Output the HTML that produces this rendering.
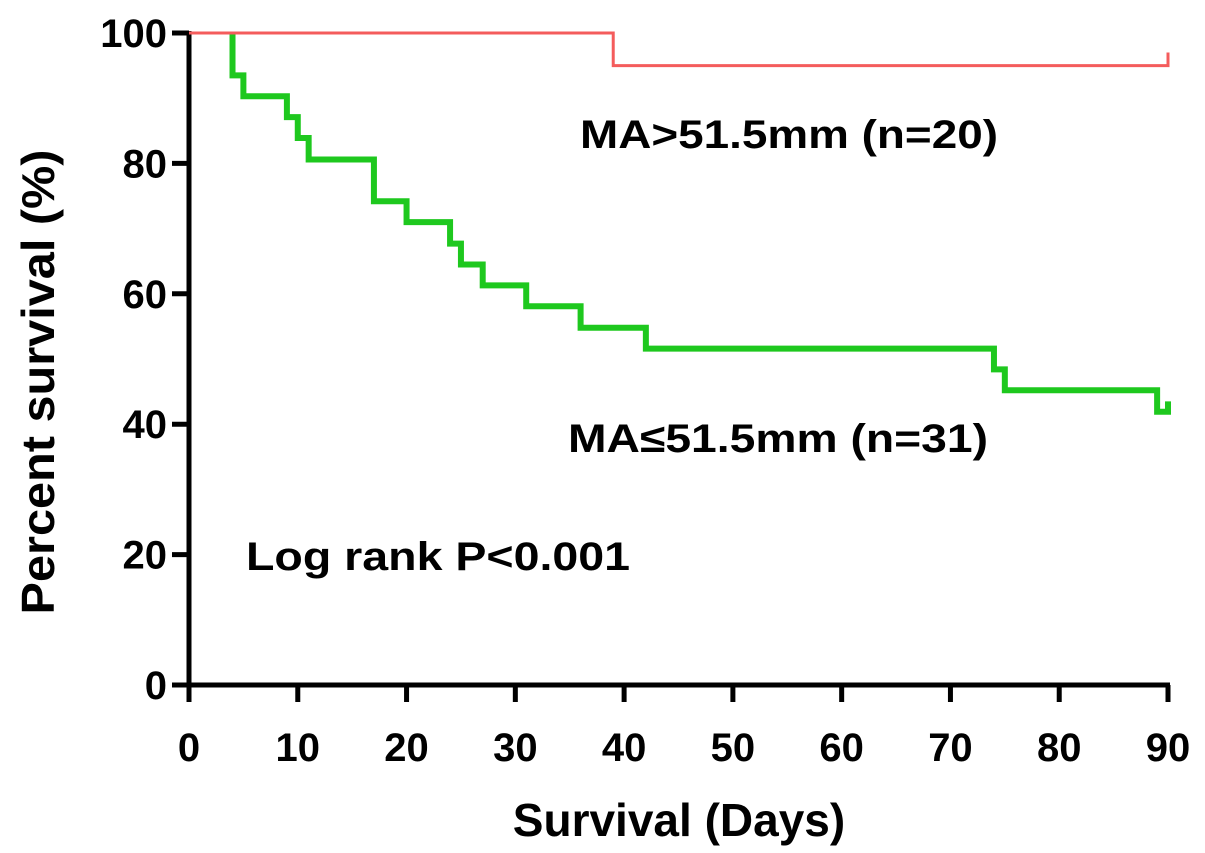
<!DOCTYPE html>
<html><head><meta charset="utf-8"><style>
body{margin:0;background:#fff;}
svg{display:block;font-family:"Liberation Sans",Arial,sans-serif;font-weight:bold;}
</style></head><body>
<svg id="c" width="1205" height="853"></svg>
<script>
const xTicks=[0,10,20,30,40,50,60,70,80,90];
const yTicks=[0,20,40,60,80,100];
const highTimes=[0,39,90];
const highVals=[100,95,95];
const highCensorEnd=97;
const lowTimes=[0,4,5,9,10,11,17,20,24,25,27,31,36,42,74,75,89,90];
const lowVals=[100,93.5,90.3,87.1,83.9,80.6,74.2,71,67.7,64.5,61.3,58.1,54.8,51.6,48.4,45.2,41.9,41.9];
const lowCensorEnd=43.5;

const X0=189,X1=1168,Y0=685,Y1=33;
const sx=d=>X0+(d-0)/90*(X1-X0);
const sy=v=>Y0-(v/100)*(Y0-Y1);
const svg=document.getElementById('c');
const NS='http://www.w3.org/2000/svg';
function mk(t,a,txt){const e=document.createElementNS(NS,t);for(const k in a)e.setAttribute(k,a[k]);if(txt!==undefined)e.textContent=txt;svg.appendChild(e);return e;}

let ya=mk('line',{x1:X0,y1:Y1-2,x2:X0,y2:Y0+2,stroke:'#000','stroke-width':5});


let xa=mk('line',{x1:X0-2,y1:Y0,x2:X1+2,y2:Y0,stroke:'#000','stroke-width':5});


for(const v of yTicks){
  const t=mk('line',{x1:X0-17,y1:sy(v),x2:X0,y2:sy(v),stroke:'#000','stroke-width':5});
  
  
  const l=mk('text',{x:X0-22,y:sy(v)+14,'text-anchor':'end','font-size':40},String(v));
  
  
}
for(const v of xTicks){
  const t=mk('line',{x1:sx(v),y1:Y0,x2:sx(v),y2:Y0+17,stroke:'#000','stroke-width':5});
  
  
  const l=mk('text',{x:sx(v),y:Y0+76,'text-anchor':'middle','font-size':40},String(v));
  
  
}
function stepPath(ts,vs,endV,startIdx){
  let d='M'+sx(ts[startIdx])+','+sy(vs[startIdx===0?0:startIdx-1]);
  if(startIdx>0)d+=' V'+sy(vs[startIdx]);
  for(let i=startIdx+1;i<ts.length;i++){d+=' H'+sx(ts[i])+' V'+sy(vs[i]);}
  d+=' V'+sy(endV);
  return d;
}
const lp=mk('path',{d:stepPath(lowTimes,lowVals,lowCensorEnd,1),fill:'none',stroke:'#1ec81e','stroke-width':6});


const hp=mk('path',{d:stepPath(highTimes,highVals,highCensorEnd,0),fill:'none',stroke:'#f45c5c','stroke-width':3});



let t;
t=mk('text',{x:580,y:148,'font-size':40,textLength:418,lengthAdjust:'spacingAndGlyphs'},'MA>51.5mm (n=20)');


t=mk('text',{x:568,y:452,'font-size':40,textLength:420,lengthAdjust:'spacingAndGlyphs'},'MA≤51.5mm (n=31)');


t=mk('text',{x:246,y:570,'font-size':40,textLength:384,lengthAdjust:'spacingAndGlyphs'},'Log rank P<0.001');


t=mk('text',{x:679,y:836,'text-anchor':'middle','font-size':46},'Survival (Days)');


t=mk('text',{x:0,y:0,'text-anchor':'middle','font-size':46,textLength:465,lengthAdjust:'spacingAndGlyphs',transform:'translate(54,382) rotate(-90)'},'Percent survival (%)');


</script>
</body></html>
